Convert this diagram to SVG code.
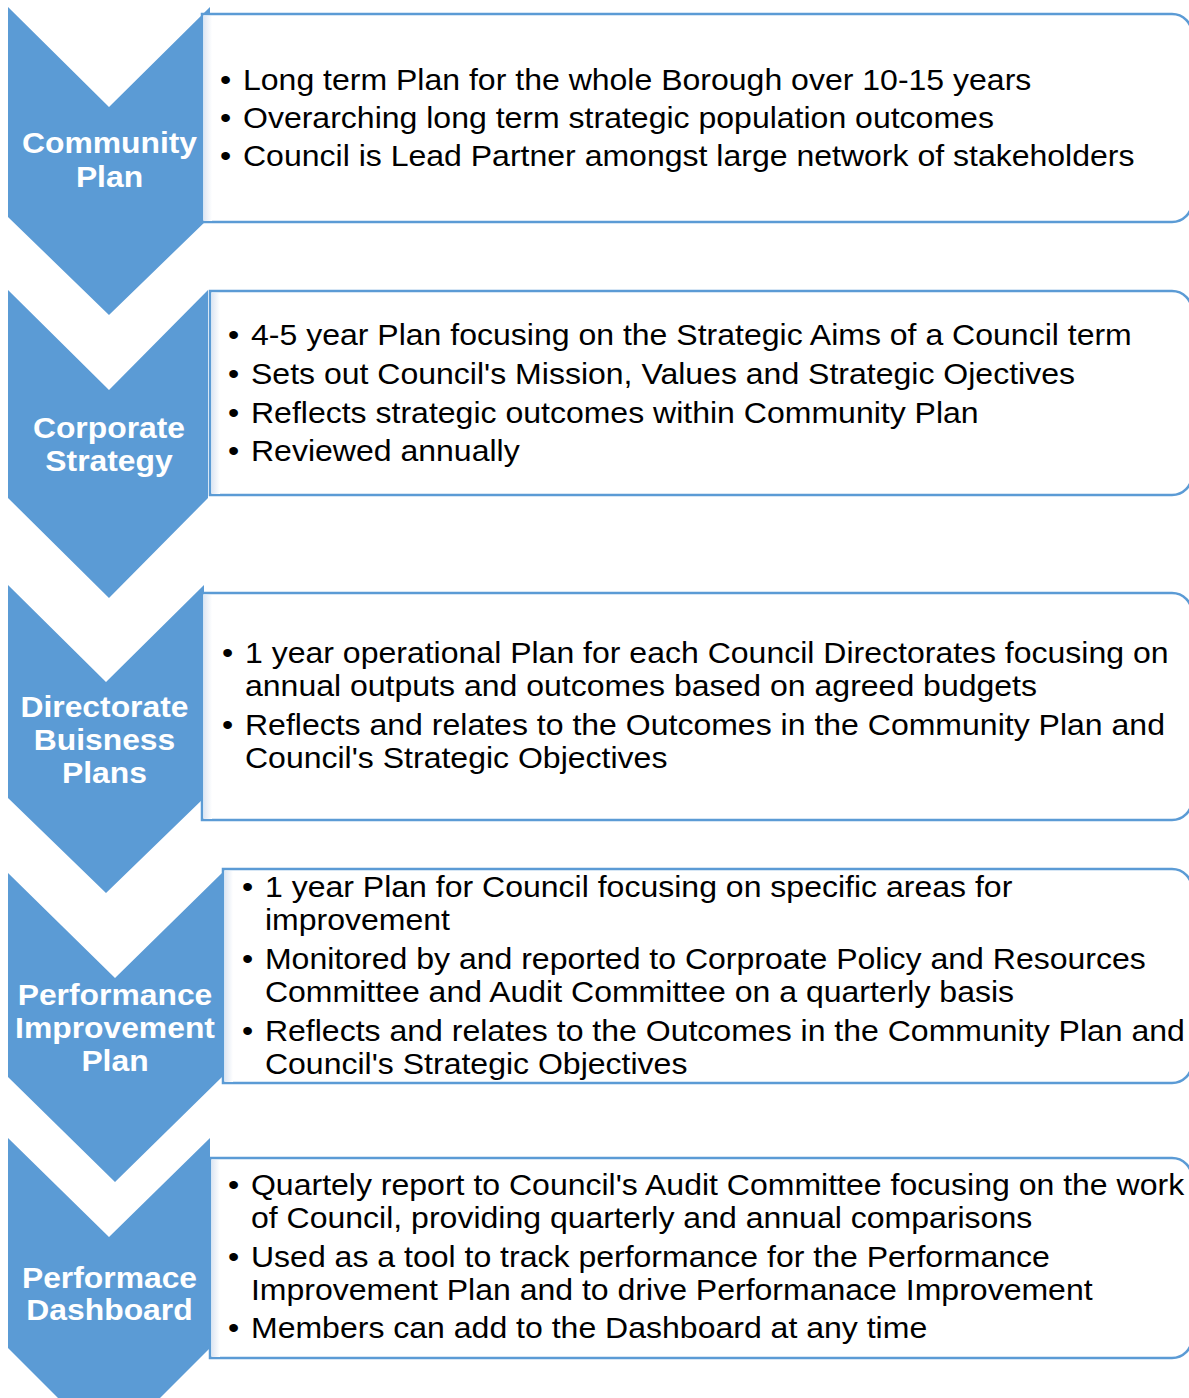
<svg xmlns="http://www.w3.org/2000/svg" width="1189" height="1398" viewBox="0 0 1189 1398">
<style>
.chev{fill:#5b9bd5;}
.box{fill:#ffffff;stroke:#5b9bd5;stroke-width:2.5;}
.shade{fill:url(#sh);}
.lbl{font-family:"Liberation Sans",Arial,sans-serif;font-weight:bold;font-size:28.7px;fill:#ffffff;text-anchor:middle;}
.txt{font-family:"Liberation Sans",Arial,sans-serif;font-size:28.85px;fill:#000000;}
</style>
<defs>
<linearGradient id="sh" x1="0" y1="0" x2="1" y2="0">
<stop offset="0" stop-color="#dfe7f3"/>
<stop offset="1" stop-color="#ffffff"/>
</linearGradient>
</defs>
<rect width="1189" height="1398" fill="#ffffff"/>

<g id="node-community-plan">
<polygon class="chev" points="8,7 109,107 210,7 210,217 109,315 8,217"/>
<path class="box" d="M202,14 H1172 A20,20 0 0 1 1192,34 V202 A20,20 0 0 1 1172,222 H202 Z"/>
<rect class="shade" x="204" y="16" width="8" height="205"/>
<g transform="scale(1.11,1)">
<text class="lbl" x="98.65" y="153">Community</text>
<text class="lbl" x="98.65" y="187">Plan</text>
<text class="txt" x="198.2" y="90">•</text><text class="txt" x="218.9" y="90">Long term Plan for the whole Borough over 10-15 years</text>
<text class="txt" x="198.2" y="128">•</text><text class="txt" x="218.9" y="128">Overarching long term strategic population outcomes</text>
<text class="txt" x="198.2" y="166">•</text><text class="txt" x="218.9" y="166">Council is Lead Partner amongst large network of stakeholders</text>
</g>
</g>

<g id="node-corporate-strategy">
<polygon class="chev" points="8,290 109,390 208,290 208,498 109,598 8,498"/>
<path class="box" d="M210,291 H1172 A20,20 0 0 1 1192,311 V475 A20,20 0 0 1 1172,495 H210 Z"/>
<rect class="shade" x="212" y="293" width="8" height="201"/>
<g transform="scale(1.11,1)">
<text class="lbl" x="98.2" y="438">Corporate</text>
<text class="lbl" x="98.2" y="471">Strategy</text>
<text class="txt" x="205.4" y="345">•</text><text class="txt" x="226.1" y="345">4-5 year Plan focusing on the Strategic Aims of a Council term</text>
<text class="txt" x="205.4" y="384">•</text><text class="txt" x="226.1" y="384">Sets out Council's Mission, Values and Strategic Ojectives</text>
<text class="txt" x="205.4" y="423">•</text><text class="txt" x="226.1" y="423">Reflects strategic outcomes within Community Plan</text>
<text class="txt" x="205.4" y="461">•</text><text class="txt" x="226.1" y="461">Reviewed annually</text>
</g>
</g>

<g id="node-directorate-business-plans">
<polygon class="chev" points="8,585 106,682 204,585 204,798 106,893 8,798"/>
<path class="box" d="M202,593 H1172 A20,20 0 0 1 1192,613 V800 A20,20 0 0 1 1172,820 H202 Z"/>
<rect class="shade" x="204" y="595" width="8" height="224"/>
<g transform="scale(1.11,1)">
<text class="lbl" x="94.14" y="717">Directorate</text>
<text class="lbl" x="94.14" y="750">Buisness</text>
<text class="lbl" x="94.14" y="783">Plans</text>
<text class="txt" x="200" y="663">•</text><text class="txt" x="220.7" y="663">1 year operational Plan for each Council Directorates focusing on</text>
<text class="txt" x="220.7" y="696">annual outputs and outcomes based on agreed budgets</text>
<text class="txt" x="200" y="735">•</text><text class="txt" x="220.7" y="735">Reflects and relates to the Outcomes in the Community Plan and</text>
<text class="txt" x="220.7" y="768">Council's Strategic Objectives</text>
</g>
</g>

<g id="node-performance-improvement-plan">
<polygon class="chev" points="8,873 115,978 222,873 222,1077 115,1182 8,1077"/>
<path class="box" d="M223,869 H1172 A20,20 0 0 1 1192,889 V1063 A20,20 0 0 1 1172,1083 H223 Z"/>
<rect class="shade" x="225" y="871" width="8" height="211"/>
<g transform="scale(1.11,1)">
<text class="lbl" x="103.6" y="1005">Performance</text>
<text class="lbl" x="103.6" y="1038">Improvement</text>
<text class="lbl" x="103.6" y="1071">Plan</text>
<text class="txt" x="218" y="897">•</text><text class="txt" x="238.7" y="897">1 year Plan for Council focusing on specific areas for</text>
<text class="txt" x="238.7" y="930">improvement</text>
<text class="txt" x="218" y="969">•</text><text class="txt" x="238.7" y="969">Monitored by and reported to Corproate Policy and Resources</text>
<text class="txt" x="238.7" y="1002">Committee and Audit Committee on a quarterly basis</text>
<text class="txt" x="218" y="1041">•</text><text class="txt" x="238.7" y="1041">Reflects and relates to the Outcomes in the Community Plan and</text>
<text class="txt" x="238.7" y="1074">Council's Strategic Objectives</text>
</g>
</g>

<g id="node-performance-dashboard">
<polygon class="chev" points="8,1138 109,1237 210,1138 210,1348 109,1449 8,1348"/>
<path class="box" d="M210,1158 H1172 A20,20 0 0 1 1192,1178 V1338 A20,20 0 0 1 1172,1358 H210 Z"/>
<rect class="shade" x="212" y="1160" width="8" height="197"/>
<g transform="scale(1.11,1)">
<text class="lbl" x="98.65" y="1288">Performace</text>
<text class="lbl" x="98.65" y="1320">Dashboard</text>
<text class="txt" x="205.4" y="1195">•</text><text class="txt" x="226.1" y="1195">Quartely report to Council's Audit Committee focusing on the work</text>
<text class="txt" x="226.1" y="1228">of Council, providing quarterly and annual comparisons</text>
<text class="txt" x="205.4" y="1267">•</text><text class="txt" x="226.1" y="1267">Used as a tool to track performance for the Performance</text>
<text class="txt" x="226.1" y="1300">Improvement Plan and to drive Performanace Improvement</text>
<text class="txt" x="205.4" y="1338">•</text><text class="txt" x="226.1" y="1338">Members can add to the Dashboard at any time</text>
</g>
</g>

<g id="connectors"></g>
</svg>
